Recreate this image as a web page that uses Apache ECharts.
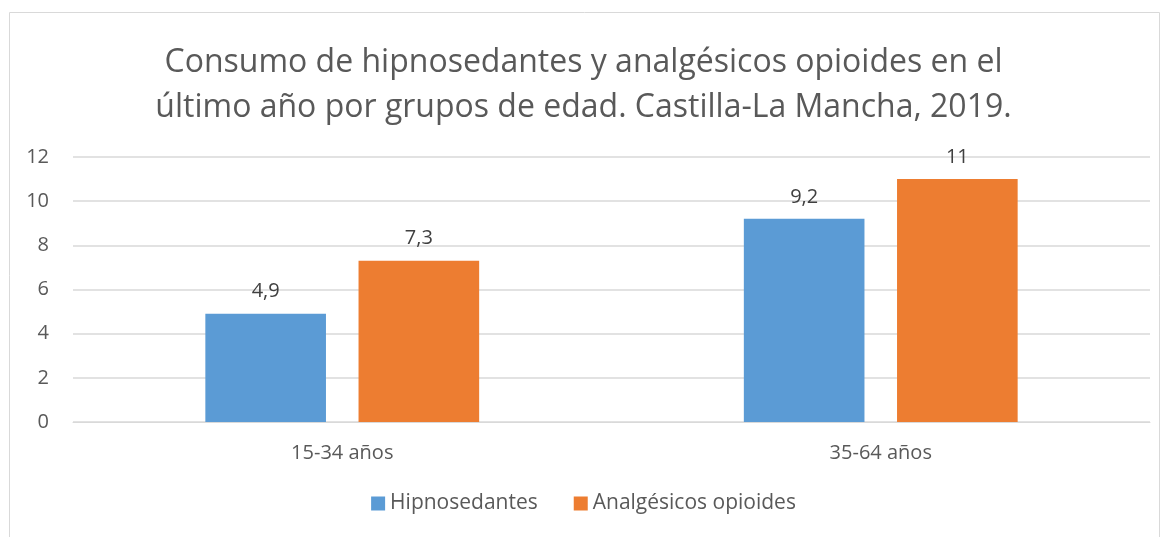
<!DOCTYPE html>
<html>
<head>
<meta charset="utf-8">
<script src="https://cdn.jsdelivr.net/npm/echarts@6/dist/echarts.min.js"></script>
<style>
  html, body { margin: 0; padding: 0; background: #fff; }
  #chart { width: 1167px; height: 537px; }
</style>
</head>
<body>
<div id="chart"></div>
<script>
let categories = ['15-34 años', '35-64 años'];
let hipnosedantes = [4.9, 9.2];
let opioides = [7.3, 11];
let yTicks = [0, 12, 2]; // min, max, interval

let font = '"Open Sans", "Noto Sans", sans-serif';
let grey = '#595959';

function fmt(p) {
    return String(p.value).replace('.', ',');
}

let option = {
    animation: false,
    textStyle: { fontFamily: font },
    graphic: [{
        type: 'rect',
        shape: { x: 9.5, y: 12.5, width: 1150, height: 540 },
        style: { fill: 'none', stroke: '#d9d9d9', lineWidth: 1 },
        silent: true
    }],
    title: {
        text: 'Consumo de hipnosedantes y analgésicos opioides en el\núltimo año por grupos de edad. Castilla-La Mancha, 2019.',
        left: 'center',
        top: 35,
        textStyle: {
            fontFamily: font,
            fontSize: 32,
            fontWeight: 'normal',
            color: grey,
            lineHeight: 45
        }
    },
    legend: {
        bottom: 18,
        left: 'center',
        itemWidth: 14,
        itemHeight: 14,
        itemGap: 36,
        icon: 'rect',
        textStyle: { fontFamily: font, fontSize: 21, color: grey },
        data: ['Hipnosedantes', 'Analgésicos opioides']
    },
    grid: {
        left: 73,
        right: 17,
        top: 157,
        bottom: 115
    },
    xAxis: {
        type: 'category',
        data: categories,
        axisLine: { lineStyle: { color: '#d9d9d9' } },
        axisTick: { show: false },
        axisLabel: { fontFamily: font, fontSize: 20, color: grey, margin: 21 }
    },
    yAxis: {
        type: 'value',
        min: yTicks[0],
        max: yTicks[1],
        interval: yTicks[2],
        axisLine: { show: false },
        axisTick: { show: false },
        splitLine: { lineStyle: { color: '#d9d9d9', width: 1.5 } },
        axisLabel: { fontFamily: font, fontSize: 20, color: grey, margin: 24 }
    },
    series: [
        {
            name: 'Hipnosedantes',
            type: 'bar',
            data: hipnosedantes,
            barWidth: '22.4%',
            barGap: '27%',
            itemStyle: { color: '#5b9bd5' },
            label: {
                show: true, position: 'top', distance: 12,
                fontFamily: font, fontSize: 20, color: '#404040', formatter: fmt
            }
        },
        {
            name: 'Analgésicos opioides',
            type: 'bar',
            data: opioides,
            barWidth: '22.4%',
            itemStyle: { color: '#ed7d31' },
            label: {
                show: true, position: 'top', distance: 12,
                fontFamily: font, fontSize: 20, color: '#404040', formatter: fmt
            }
        }
    ]
};

let myChart = echarts.init(document.getElementById('chart'));
myChart.setOption(option);
</script>
</body>
</html>
